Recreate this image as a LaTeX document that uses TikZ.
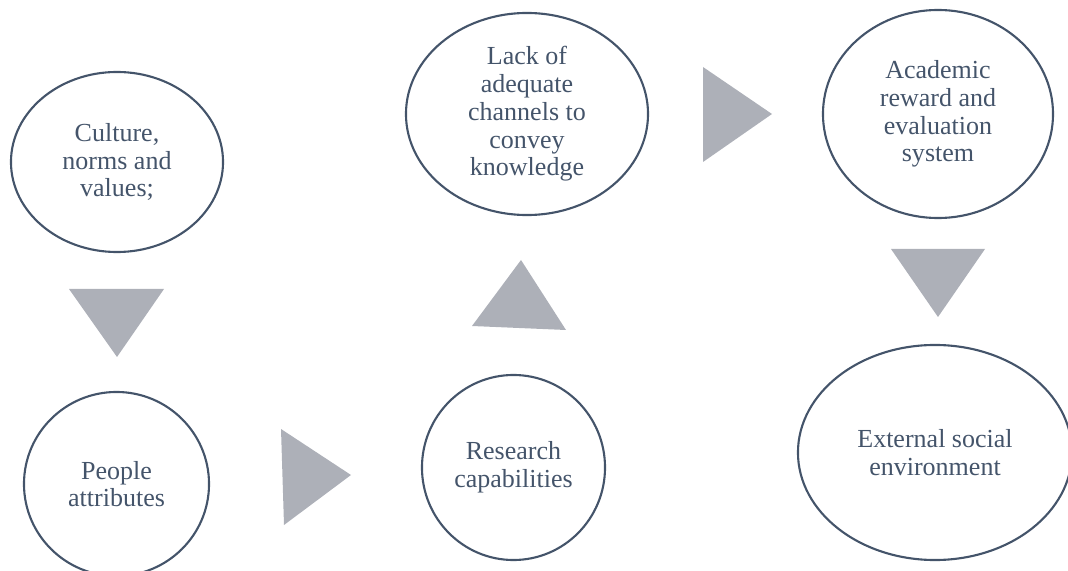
\documentclass[tikz,border=0pt]{standalone}
\usepackage{fontspec}
\setmainfont{Liberation Serif}
\usetikzlibrary{shapes.geometric}
\definecolor{slate}{HTML}{44546A}
\definecolor{wedgegrey}{HTML}{ADB0B8}
\tikzstyle{factor} = [ellipse, draw=slate, line width=1.5pt, text=slate, align=center, inner sep=0pt, font=\fontsize{18.5}{19.7}\selectfont]
\tikzstyle{wedge} = [fill=wedgegrey, draw=none]

\begin{document}
\begin{tikzpicture}[x=0.025cm, y=-0.025cm]
  \useasboundingbox (0,0) rectangle (1068,571);
  \clip (0,0) rectangle (1068,571);

  % factors
  \node (culture) [factor, minimum width=5.3cm, minimum height=4.5cm] at (117,162) {Culture,\\norms and\\values;};
  \node (people) [factor, minimum width=4.625cm, minimum height=4.6cm] at (116.5,484) {People\\attributes};
  \node (research) [factor, minimum width=4.575cm, minimum height=4.625cm] at (513.5,467.5) {Research\\capabilities};
  \node (channels) [factor, minimum width=6.05cm, minimum height=5.05cm] at (527,114) {Lack of\\adequate\\channels to\\convey\\knowledge};
  \node (reward) [factor, minimum width=5.75cm, minimum height=5.2cm] at (938,114) {Academic\\reward and\\evaluation\\system};
  \node (environment) [factor, minimum width=6.85cm, minimum height=5.375cm] at (935,452.5) {External social\\environment};

  % grey pointers between the factors
  \fill[wedge] (69,289) -- (164,289) -- (117,357) -- cycle;
  \fill[wedge] (281,429) -- (351,475) -- (284,525) -- cycle;
  \fill[wedge] (521,260) -- (566,330) -- (472,326) -- cycle;
  \fill[wedge] (703,67) -- (772,114) -- (703,162) -- cycle;
  \fill[wedge] (891,249) -- (985,249) -- (938,317) -- cycle;
\end{tikzpicture}
\end{document}
